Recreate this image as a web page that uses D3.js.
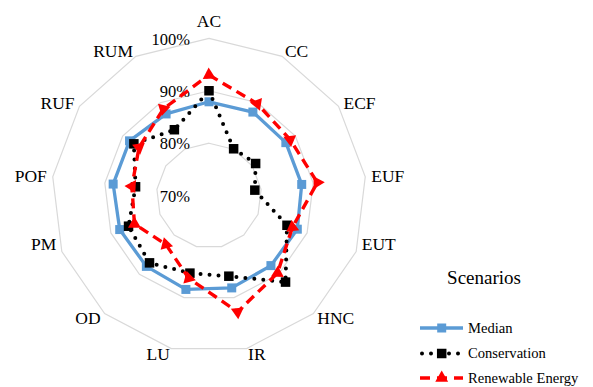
<!DOCTYPE html>
<html>
<head>
<meta charset="utf-8">
<script src="https://cdn.jsdelivr.net/npm/d3@7"></script>
<style>
html,body{margin:0;padding:0;background:#fff;}
svg{display:block;}
svg text{font-family:"Liberation Serif","DejaVu Serif","Noto Serif","Times New Roman",Times,serif;}
</style>
</head>
<body>
<svg id="chart" width="593" height="387"></svg>
<script>
const categories = ["AC","CC","ECF","EUF","EUT","HNC","IR","LU","OD","PM","POF","RUF","RUM"];
const median = [87.9, 88.0, 87.8, 87.8, 88.0, 87.8, 88.1, 88.4, 88.0, 88.2, 88.4, 88.4, 87.6];
const conservation = [90.0, 80.1, 80.8, 78.8, 85.9, 92.0, 85.8, 85.2, 87.1, 86.4, 84.1, 87.4, 84.2];
const renewable = [93.0, 89.8, 88.8, 90.8, 87.0, 89.7, 92.8, 86.2, 82.4, 85.2, 84.8, 86.2, 88.7];
const tickValues = [70, 80, 90, 100];
const tickLabels = ["70%", "80%", "90%", "100%"];
const seriesNames = ["Median", "Conservation", "Renewable Energy"];
const legendTitle = "Scenarios";

const svg = d3.select("#chart");
const cx = 209, cy = 195.7, R = 157.4;
const rScale = d3.scaleLinear().domain([70, 100]).range([0, R]);
const aScale = d3.scaleLinear().domain([0, categories.length]).range([0, 2 * Math.PI]);

function pt(i, v) {
  const a = aScale(i), r = rScale(v);
  return [cx + r * Math.sin(a), cy - r * Math.cos(a)];
}

const styles = [
  {color: "#5B9BD5", width: 3.3, dash: null, cap: "butt", marker: "square", size: 9},
  {color: "#000000", width: 4, dash: "0 9", cap: "round", marker: "square", size: 9.5},
  {color: "#FF0000", width: 3.4, dash: "10 6", cap: "butt", marker: "triangle", size: 12}
];
const seriesData = [median, conservation, renewable];

// grid rings
const g = svg.append("g");
tickValues.filter(v => v > 70).forEach(v => {
  const pts = categories.map((c, i) => pt(i, v));
  g.append("polygon")
    .attr("points", pts.map(p => p.join(",")).join(" "))
    .attr("fill", "none").attr("stroke", "#D9D9D9").attr("stroke-width", 1.2);
});

// tick labels
tickValues.forEach((v, k) => {
  g.append("text")
    .attr("x", cx - 19).attr("y", cy - rScale(v) + 0.8)
    .attr("dy", "0.33em")
    .attr("text-anchor", "end")
    .attr("font-size", "16.5px")
    .text(tickLabels[k]);
});

// category labels
categories.forEach((c, i) => {
  const a = aScale(i);
  const dx = Math.sin(a), dy = -Math.cos(a);
  const [vx, vy] = pt(i, 100);
  const ax = vx + 6 * dx, ay = vy + 6 * dy;
  const t = g.append("text").attr("font-size", "17.5px").text(c);
  if (Math.abs(dx) < 0.01) {
    t.attr("x", ax).attr("y", ay - 5.6).attr("text-anchor", "middle");
  } else {
    let yy = ay;
    if (dy > 0.2 && dy < 0.5) yy -= 9.6;
    t.attr("x", ax).attr("y", yy).attr("dy", "0.33em")
     .attr("text-anchor", dx > 0 ? "start" : "end");
  }
});

const line = d3.line().curve(d3.curveLinearClosed);

function drawMarker(sel, type, size, color, x, y, rot) {
  if (type === "square") {
    sel.append("rect")
      .attr("x", x - size / 2).attr("y", y - size / 2)
      .attr("width", size).attr("height", size)
      .attr("fill", color);
  } else {
    const sym = d3.symbol().type(d3.symbolTriangle).size(size * size * 0.5);
    sel.append("path")
      .attr("d", sym())
      .attr("transform", `translate(${x},${y}) rotate(${rot})`)
      .attr("fill", color);
  }
}

seriesData.forEach((vals, s) => {
  const st = styles[s];
  const pts = vals.map((v, i) => pt(i, v));
  const sg = svg.append("g");
  const p = sg.append("path")
    .attr("d", line(pts))
    .attr("fill", "none")
    .attr("stroke", st.color)
    .attr("stroke-width", st.width)
    .attr("stroke-linecap", st.cap)
    .attr("stroke-linejoin", "round");
  if (st.dash) p.attr("stroke-dasharray", st.dash);
  const n = pts.length;
  pts.forEach((q, i) => {
    const prev = pts[(i - 1 + n) % n], next = pts[(i + 1) % n];
    let ix = q[0] - prev[0], iy = q[1] - prev[1];
    let ox = next[0] - q[0], oy = next[1] - q[1];
    const li = Math.hypot(ix, iy), lo = Math.hypot(ox, oy);
    const bx = ix / li + ox / lo, by = iy / li + oy / lo;
    const rot = Math.atan2(by, bx) * 180 / Math.PI;
    drawMarker(sg, st.marker, st.size, st.color, q[0], q[1], rot);
  });
});

// legend
const lg = svg.append("g");
lg.append("text").attr("x", 484).attr("y", 284)
  .attr("text-anchor", "middle").attr("font-size", "19px").text(legendTitle);
const rowY = [328, 353.5, 378];
seriesNames.forEach((name, s) => {
  const st = styles[s];
  const y = rowY[s];
  const l = lg.append("line")
    .attr("x1", st.cap === "round" ? 422 : 420).attr("x2", st.cap === "round" ? 462 : 463)
    .attr("y1", y).attr("y2", y)
    .attr("stroke", st.color).attr("stroke-width", st.width)
    .attr("stroke-linecap", st.cap);
  if (st.dash) l.attr("stroke-dasharray", s === 2 ? "10 7" : st.dash);
  drawMarker(lg, st.marker, st.size, st.color, 441.7, y, 0);
  lg.append("text").attr("x", 468).attr("y", y).attr("dy", "0.33em")
    .attr("font-size", "14.6px").text(name);
});
</script>
</body>
</html>
